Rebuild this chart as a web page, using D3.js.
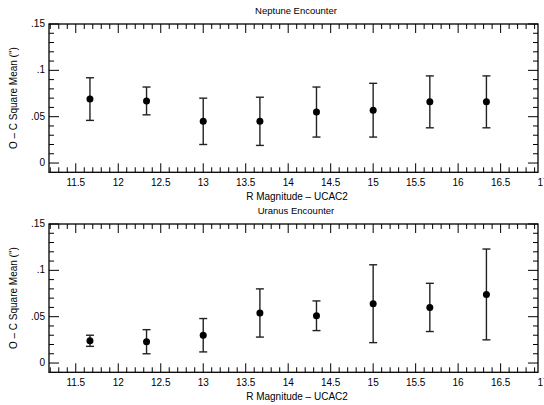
<!DOCTYPE html>
<html><head><meta charset="utf-8">
<script src="https://cdn.jsdelivr.net/npm/d3@7"></script>
<style>body{margin:0;background:#fff}svg{display:block}text{font-family:"Liberation Sans",Arial,sans-serif;fill:#000}</style>
</head><body>
<svg id="c" width="544" height="405"></svg>
<script>
const magnitudes = [11.667, 12.333, 13, 13.667, 14.333, 15, 15.667, 16.333];
const neptuneMean = [0.069, 0.067, 0.045, 0.045, 0.055, 0.057, 0.066, 0.066];
const neptuneHigh = [0.092, 0.082, 0.070, 0.071, 0.082, 0.086, 0.094, 0.094];
const neptuneLow  = [0.046, 0.052, 0.020, 0.019, 0.028, 0.028, 0.038, 0.038];
const uranusMean = [0.024, 0.023, 0.030, 0.054, 0.051, 0.064, 0.060, 0.074];
const uranusHigh = [0.030, 0.036, 0.048, 0.080, 0.067, 0.106, 0.086, 0.123];
const uranusLow  = [0.018, 0.010, 0.012, 0.028, 0.035, 0.022, 0.034, 0.025];
const xTickLabels = [11.5, 12, 12.5, 13, 13.5, 14, 14.5, 15, 15.5, 16, 16.5, 17];
const yTickLabels = [0, 0.05, 0.1, 0.15];
const panelTitles = ["Neptune Encounter", "Uranus Encounter"];
const xTitle = "R Magnitude \u2013 UCAC2";
const yTitle = "O \u2013 C Square Mean (\")";

const svg = d3.select("#c");
const L = 49, R = 538;
const x = d3.scaleLinear().domain([11.185, 16.94]).range([L, R]);
const fmt = v => v === 0 ? "0" : String(v).replace(/^0/, "");

function panel(off, title, mean, hi, lo) {
  const top = 24 + off, bottom = 172.3 + off;
  const y = d3.scaleLinear().domain([-0.01, 0.15]).range([bottom, top]);
  const g = svg.append("g");
  const minorX = d3.range(11.2, 17.0001, 0.1).map(v => +v.toFixed(1)).filter(v => x(v) > L + 0.5 && x(v) < R - 0.5);
  const minorY = d3.range(0, 0.1501, 0.01).map(v => +v.toFixed(2));
  const isMajX = v => Math.abs(v * 2 - Math.round(v * 2)) < 1e-6;
  const isMajY = v => Math.abs(v * 20 - Math.round(v * 20)) < 1e-6;
  g.selectAll(".xb").data(minorX).enter().append("line")
    .attr("x1", d => x(d)).attr("x2", d => x(d))
    .attr("y1", bottom).attr("y2", d => bottom - (isMajX(d) ? 9 : 5))
    .attr("stroke", "#000").attr("stroke-width", 1);
  g.selectAll(".xt").data(minorX).enter().append("line")
    .attr("x1", d => x(d)).attr("x2", d => x(d))
    .attr("y1", top).attr("y2", d => top + (isMajX(d) ? 9 : 5))
    .attr("stroke", "#000").attr("stroke-width", 1);
  g.selectAll(".yl").data(minorY).enter().append("line")
    .attr("y1", d => y(d)).attr("y2", d => y(d))
    .attr("x1", L).attr("x2", d => L + (isMajY(d) ? 10 : 5))
    .attr("stroke", "#000").attr("stroke-width", 1);
  g.selectAll(".yr").data(minorY).enter().append("line")
    .attr("y1", d => y(d)).attr("y2", d => y(d))
    .attr("x1", R).attr("x2", d => R - (isMajY(d) ? 10 : 5))
    .attr("stroke", "#000").attr("stroke-width", 1);
  g.append("rect").attr("x", L).attr("y", top).attr("width", R - L).attr("height", bottom - top)
    .attr("fill", "none").attr("stroke", "#000").attr("stroke-width", 1.3);
  g.selectAll(".xlab").data(xTickLabels).enter().append("text")
    .attr("x", d => x(d)).attr("y", bottom + 14).attr("text-anchor", "middle")
    .attr("font-size", 10).text(d => d);
  g.selectAll(".ylab").data(yTickLabels).enter().append("text")
    .attr("x", 45).attr("y", d => y(d) + 3).attr("text-anchor", "end")
    .attr("font-size", 10).text(fmt);
  g.append("text").attr("x", 296).attr("y", off + 13.5).attr("text-anchor", "middle")
    .attr("font-size", 9.5).text(title);
  g.append("text").attr("x", 297).attr("y", bottom + 28).attr("text-anchor", "middle")
    .attr("font-size", 10).text(xTitle);
  g.append("text").attr("transform", `translate(17,${(top + bottom) / 2}) rotate(-90)`)
    .attr("text-anchor", "middle").attr("font-size", 10).text(yTitle);
  const idx = d3.range(magnitudes.length);
  const eb = g.selectAll(".eb").data(idx).enter().append("g");
  eb.append("line").attr("x1", i => x(magnitudes[i])).attr("x2", i => x(magnitudes[i]))
    .attr("y1", i => y(hi[i])).attr("y2", i => y(lo[i])).attr("stroke", "#222").attr("stroke-width", 1.4);
  eb.append("line").attr("x1", i => x(magnitudes[i]) - 4).attr("x2", i => x(magnitudes[i]) + 4)
    .attr("y1", i => y(hi[i])).attr("y2", i => y(hi[i])).attr("stroke", "#222").attr("stroke-width", 1.4);
  eb.append("line").attr("x1", i => x(magnitudes[i]) - 4).attr("x2", i => x(magnitudes[i]) + 4)
    .attr("y1", i => y(lo[i])).attr("y2", i => y(lo[i])).attr("stroke", "#222").attr("stroke-width", 1.4);
  eb.append("circle").attr("cx", i => x(magnitudes[i])).attr("cy", i => y(mean[i]))
    .attr("r", 3.5).attr("fill", "#000");
}
panel(0, panelTitles[0], neptuneMean, neptuneHigh, neptuneLow);
panel(200, panelTitles[1], uranusMean, uranusHigh, uranusLow);
</script>
</body></html>
